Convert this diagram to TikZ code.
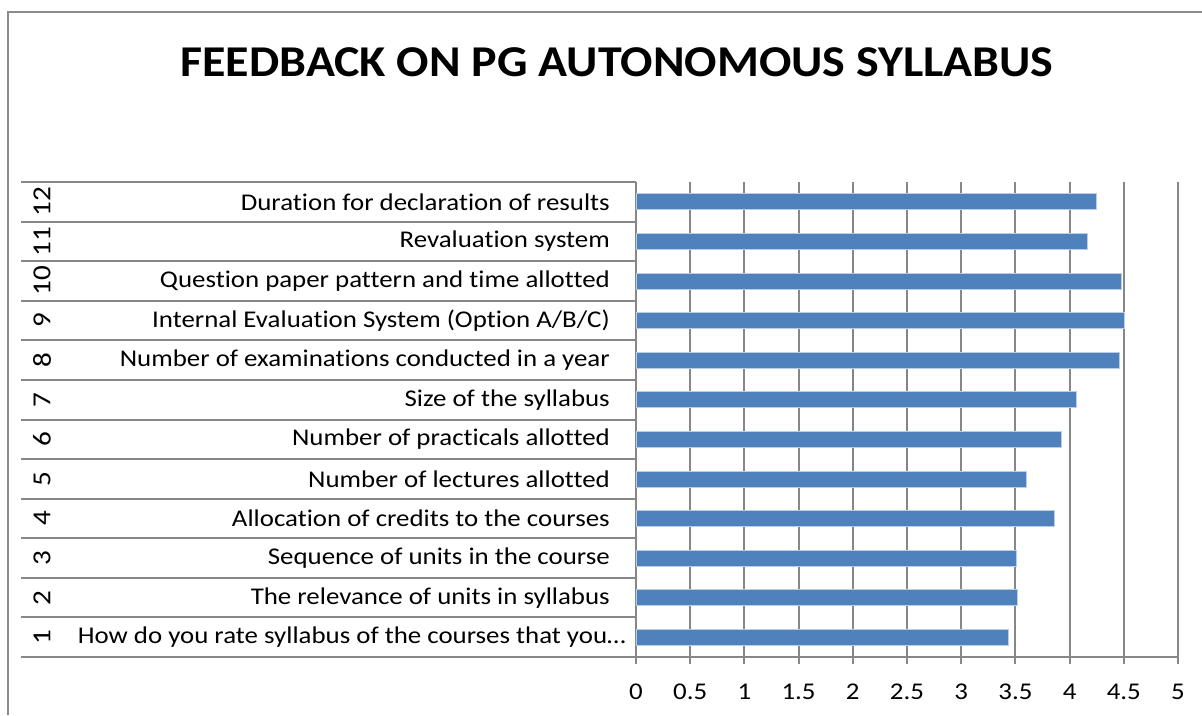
\documentclass[tikz,border=0pt]{standalone}
\usepackage{fontspec}
\setmainfont{Carlito}[Ligatures=NoCommon]
\newfontfamily\labfont{Carlito}[Ligatures=NoCommon,FakeStretch=1.12]
\newfontfamily\titfont{Carlito}[Ligatures=NoCommon,FakeStretch=1.09]
\definecolor{gridgray}{HTML}{878787}
\definecolor{framegray}{HTML}{8C8C8C}
\definecolor{barblue}{HTML}{4F81BD}
\definecolor{baredge}{HTML}{B9CDE5}
\begin{document}
\begin{tikzpicture}[x=1pt,y=-1pt,
  gridline/.style={draw=gridgray,line width=2pt},
  catline/.style={draw=gridgray,line width=2pt},
  barfill/.style={fill=barblue,draw=baredge,line width=0.6pt},
  catlab/.style={anchor=east,inner sep=0pt,font=\labfont\fontsize{24}{28}\selectfont},
  catnum/.style={rotate=90,inner sep=0pt,font=\labfont\fontsize{26}{30}\selectfont},
  ticklab/.style={inner sep=0pt,font=\labfont\fontsize{24}{28}\selectfont},
  titlestyle/.style={inner sep=0pt,font=\titfont\fontsize{44}{52}\selectfont\bfseries}]
\useasboundingbox (0,0) rectangle (1202,715);
\fill[white] (0,0) rectangle (1202,715);
\draw[framegray,line width=2pt] (8,715) -- (8,12) -- (1202,12);
\node[titlestyle] (title) at (617,62) {FEEDBACK ON PG AUTONOMOUS SYLLABUS};
% vertical gridlines and ticks
\foreach \k in {0,...,10}{
  \draw[gridline] ({636+54.2*\k},182) -- ({636+54.2*\k},664);
}
\foreach \k/\t in {0/0,1/0.5,2/1,3/1.5,4/2,5/2.5,6/3,7/3.5,8/4,9/4.5,10/5}{
  \node[ticklab] (tick\k) at ({636+54.2*\k},692) {\t};
}
% horizontal category lines
\foreach \i in {0,...,12}{
  \draw[catline] (21,{657-39.583*\i}) -- (636,{657-39.583*\i});
}
\draw[gridline] (636,657) -- (1178,657);
% bars
\foreach \i/\v in {1/3.43,2/3.52,3/3.51,4/3.86,5/3.60,6/3.92,7/4.06,8/4.46,9/4.50,10/4.48,11/4.16,12/4.25}{
  \pgfmathsetmacro{\cy}{657-39.583*(\i-0.5)}
  \draw[barfill] (636,\cy-8) rectangle ({636+108.4*\v},\cy+8);
  \node[catnum] (num\i) at (42,\cy) {\i};
}
% labels
\node[catlab] (lab1) at (626,{657-39.583*0.5}) {How do you rate syllabus of the courses that you…};
\node[catlab] (lab2) at (610,{657-39.583*1.5}) {The relevance of units in syllabus};
\node[catlab] (lab3) at (610,{657-39.583*2.5}) {Sequence of units in the course};
\node[catlab] (lab4) at (610,{657-39.583*3.5}) {Allocation of credits to the courses};
\node[catlab] (lab5) at (610,{657-39.583*4.5}) {Number of lectures allotted};
\node[catlab] (lab6) at (610,{657-39.583*5.5}) {Number of practicals allotted};
\node[catlab] (lab7) at (610,{657-39.583*6.5}) {Size of the syllabus};
\node[catlab] (lab8) at (610,{657-39.583*7.5}) {Number of examinations conducted in a year};
\node[catlab] (lab9) at (610,{657-39.583*8.5}) {Internal Evaluation System (Option A/B/C)};
\node[catlab] (lab10) at (610,{657-39.583*9.5}) {Question paper pattern and time allotted};
\node[catlab] (lab11) at (610,{657-39.583*10.5}) {Revaluation system};
\node[catlab] (lab12) at (610,{657-39.583*11.5}) {Duration for declaration of results};
\end{tikzpicture}
\end{document}
